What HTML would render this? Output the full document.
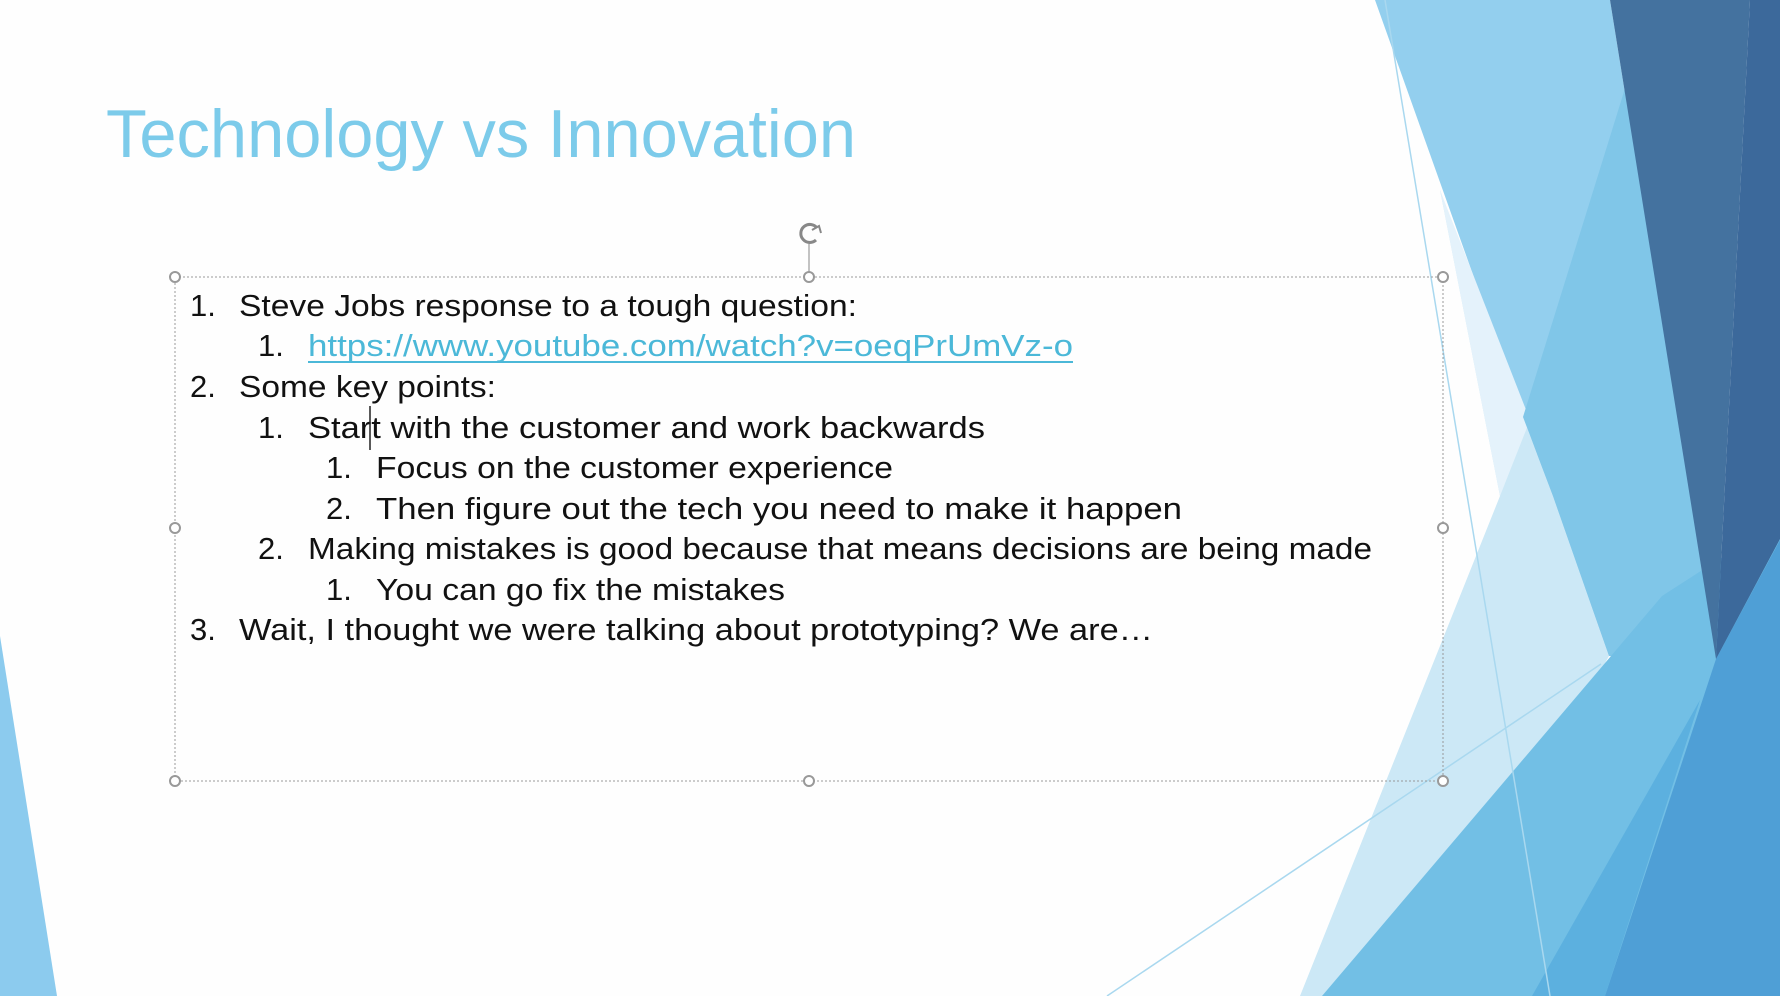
<!DOCTYPE html>
<html><head><meta charset="utf-8"><style>
html,body{margin:0;padding:0;background:#fff;}
svg{display:block;}
.t{font-family:"Liberation Sans",sans-serif;font-size:31px;fill:#111;}
</style></head><body>
<svg width="1780" height="996" viewBox="0 0 1780 996">
<rect width="1780" height="996" fill="#fefefe"/>
<g>
<polygon points="0,636 0,996 57,996" fill="#8ccbee"/>
<polygon points="1375,0 1610,0 1716,659 1609,656" fill="#93cfee"/>
<polygon points="1440,190 1523,417 1553,496 1609,656 1420,996 1300,996 1500,496" fill="#cce8f6"/>
<polygon points="1440,190 1530,420 1500,496" fill="#e4f2fb"/>
<polygon points="1640,40 1690,400 1716,659 1609,656 1553,496 1523,417" fill="#80c6e8"/>
<polygon points="1662,596 1780,520 1780,996 1322,996" fill="#72bfe5"/>
<polygon points="1716,659 1780,540 1780,996 1605,996" fill="#4f9fd6"/>
<polygon points="1532,996 1605,996 1700,700" fill="#5cb0df"/>
<polygon points="1610,0 1750,0 1716,659" fill="#44729f"/>
<polygon points="1750,0 1780,0 1780,539 1716,659" fill="#3c699b"/>
<line x1="1385" y1="0" x2="1550" y2="996" stroke="#a9d8ef" stroke-width="1.5"/>
<line x1="1107" y1="996" x2="1601" y2="664" stroke="#a9d8ef" stroke-width="1.5"/>
</g>
<text x="106" y="157" font-family="Liberation Sans, sans-serif" font-size="68" fill="#7ccbea" textLength="750" lengthAdjust="spacingAndGlyphs">Technology vs Innovation</text>
<g>
<rect x="175" y="277" width="1268" height="504" fill="none" stroke="#999" stroke-width="1" stroke-dasharray="2,2"/>
<line x1="809" y1="242" x2="809" y2="277" stroke="#888"/>
<g fill="#fff" stroke="#999" stroke-width="2">
<circle cx="175" cy="277" r="5"/><circle cx="809" cy="277" r="5"/><circle cx="1443" cy="277" r="5"/>
<circle cx="175" cy="528" r="5"/><circle cx="1443" cy="528" r="5"/>
<circle cx="175" cy="781" r="5"/><circle cx="809" cy="781" r="5"/><circle cx="1443" cy="781" r="5"/>
</g>
<path d="M817,228 A9,9 0 1,0 816,240" fill="none" stroke="#888" stroke-width="3"/>
<path d="M812,230 l7,-4 l2,7" fill="none" stroke="#888" stroke-width="2"/>
</g>
<g>
<text class="t" x="190" y="316">1.</text><text class="t" x="239" y="316" textLength="618" lengthAdjust="spacingAndGlyphs">Steve Jobs response to a tough question:</text>
<text class="t" x="258" y="356">1.</text><text class="t" x="308" y="356" textLength="765" lengthAdjust="spacingAndGlyphs" style="fill:#4bb8d8">https://www.youtube.com/watch?v=oeqPrUmVz-o</text>
<line x1="308" y1="362" x2="1073" y2="362" stroke="#4bb8d8" stroke-width="2"/>
<text class="t" x="190" y="397">2.</text><text class="t" x="239" y="397" textLength="257" lengthAdjust="spacingAndGlyphs">Some key points:</text>
<text class="t" x="258" y="438">1.</text><text class="t" x="308" y="438" textLength="677" lengthAdjust="spacingAndGlyphs">Start with the customer and work backwards</text>
<text class="t" x="326" y="478">1.</text><text class="t" x="376" y="478" textLength="517" lengthAdjust="spacingAndGlyphs">Focus on the customer experience</text>
<text class="t" x="326" y="519">2.</text><text class="t" x="376" y="519" textLength="806" lengthAdjust="spacingAndGlyphs">Then figure out the tech you need to make it happen</text>
<text class="t" x="258" y="559">2.</text><text class="t" x="308" y="559" textLength="1064" lengthAdjust="spacingAndGlyphs">Making mistakes is good because that means decisions are being made</text>
<text class="t" x="326" y="600">1.</text><text class="t" x="376" y="600" textLength="409" lengthAdjust="spacingAndGlyphs">You can go fix the mistakes</text>
<text class="t" x="190" y="640">3.</text><text class="t" x="239" y="640" textLength="914" lengthAdjust="spacingAndGlyphs">Wait, I thought we were talking about prototyping? We are…</text>
</g>
<line x1="370" y1="406" x2="370" y2="450" stroke="#222" stroke-width="1.5"/>
</svg>
</body></html>
